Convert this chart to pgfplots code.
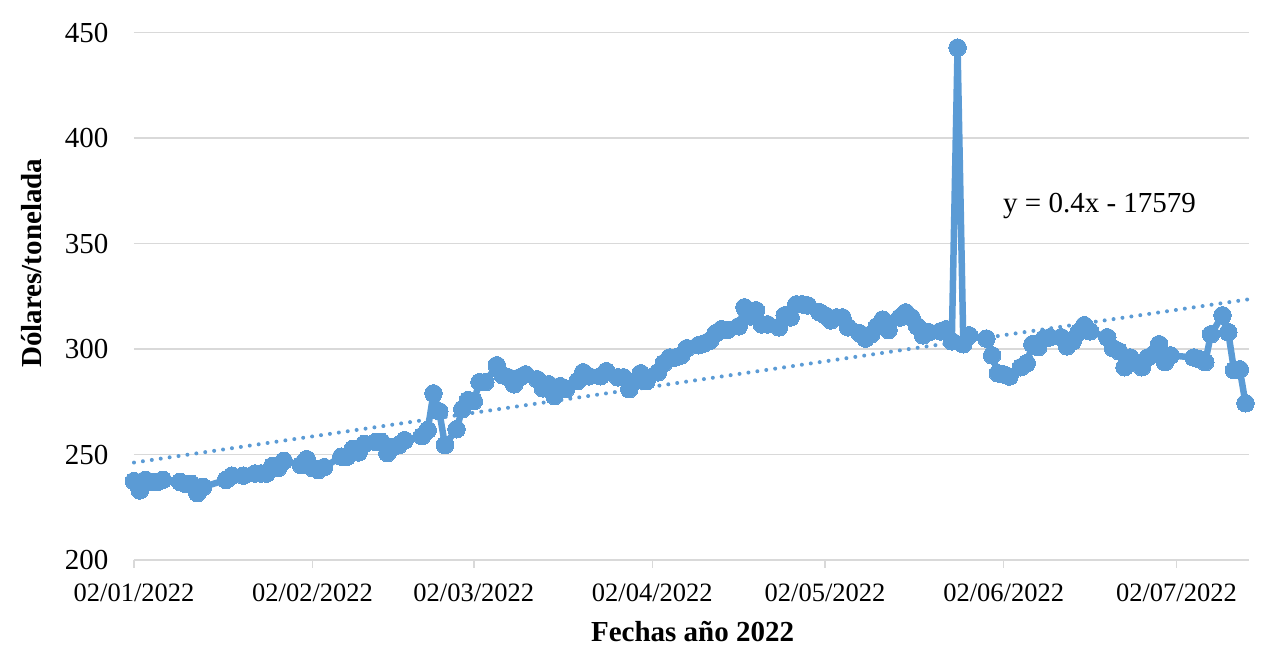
\documentclass[border=0pt]{standalone}
\usepackage{pgfplots}
\pgfplotsset{compat=1.18}
\usepackage{fontspec}
\setmainfont{Liberation Serif}
\definecolor{serie}{HTML}{5B9BD5}
\definecolor{rejilla}{HTML}{D9D9D9}

\begin{document}
\begin{tikzpicture}
\begin{axis}[
  scale only axis,
  width=1115pt, height=527.3pt,
  xmin=0, xmax=193.6,
  ymin=200, ymax=450,
  ytick={200,250,...,450},
  xtick={0,31,59,90,120,151,181},
  xticklabels={02/01/2022,02/02/2022,02/03/2022,02/04/2022,02/05/2022,02/06/2022,02/07/2022},
  axis x line*=bottom,
  axis y line*=left,
  y axis line style={draw=none},
  x axis line style={rejilla, line width=1.5pt},
  ymajorgrids,
  grid style={rejilla, line width=1.5pt},
  ytick style={draw=none},
  xtick style={rejilla, line width=1.5pt},
  tick align=outside,
  major tick length=8pt,
  /pgf/number format/assume math mode=true,
  yticklabel style={font=\fontsize{29}{34}\selectfont, xshift=-14pt},
  xticklabel style={font=\fontsize{26.5}{31}\selectfont, yshift=-12pt},
  xlabel={\textbf{Fechas año 2022}},
  ylabel={\textbf{Dólares/tonelada}},
  label style={font=\fontsize{29}{34}\selectfont},
  xlabel style={at={(axis description cs:0.501,-0.1365)}, anchor=center},
  ylabel style={at={(axis description cs:-0.0915,0.563)}, anchor=center},
  clip=false,
]
% linea de tendencia
\addplot[serie, line width=4pt, line cap=round, dash pattern=on 0pt off 9pt]
coordinates {(0,246.2) (193.3,323.5)};
% precios
\addplot[serie, line width=6.5pt, line join=round, mark=*, mark size=8.8pt,
  mark options={fill=serie, draw=serie, line width=0pt}]
coordinates {
(0,237.4)(1,233)(2,238)(3,237)(4,237)(5,238)(8,237)(9,236)(10,236)(11,231.7)(12,234.6)
(16,238)(17,240)(19,240)(21,241)(22,241)(23,241)(24,244.5)(25,243.6)(26,247)
(29,245)(30,247.8)(31,243.6)(32,242.6)(33,244)(36,249)(37,249)(38,252.6)(39,251)(40,255)
(42,255.9)(43,255.9)(44,250.7)(45,253.5)(46,254.5)(47,256.8)(50,258.7)(51,261.6)
(52,279)(53,270.5)(54,254.5)(56,262)(57,271.5)(58,275.8)(59,275.3)(60,284.3)(61,284.3)
(63,292.3)(64,287.6)(65,286.6)(66,283.3)(67,286.6)(68,288)(70,285.7)(71,281.4)(72,283.3)
(73,277.7)(74,282.4)(75,281)(77,284.8)(78,289)(79,287.1)(81,287.1)(82,289.5)(84,286.6)
(85,286.6)(86,281)(87,284.8)(88,288.5)(89,284.8)(91,289)(92,293.3)(93,296)(94,296)
(95,297)(96,300.4)(98,301.8)(99,302.7)(100,304)(101,307.5)(102,309.4)(103,309)
(105,310.8)(106,319.8)(107,315.5)(108,318.4)(109,311.7)(110,311.7)(112,310.3)(113,316)
(114,315)(115,321.2)(116,321.2)(117,320.7)(119,317.5)(120,316)(121,313.6)(122,315)
(123,315)(124,310.3)(126,307.5)(127,305)(128,307)(129,310.8)(130,314)(131,309)
(133,315)(134,317.4)(135,315)(136,310.8)(137,306.5)(138,308)(140,308.4)(141,309.4)
(142,303.7)(143,442.9)(144,302.3)(145,306.5)(148,305)(149,297)(150,288.5)(151,288)
(152,287)(154,291.4)(155,293.3)(156,302.3)(157,300.9)(158,305)(159,305.6)(161,305.6)
(162,301.3)(163,303.7)(164,308)(165,311.3)(166,308.4)(169,305.6)(170,300.4)(171,299)
(172,291.4)(173,296)(175,291.4)(176,296)(177,297.5)(178,302.3)(179,293.8)(180,297)
(184,296)(185,295.2)(186,293.8)(187,307)(189,316)(190,308)(191,290)(192,290.4)(193,274.3)
};
\node[font=\fontsize{29}{34}\selectfont, anchor=center]
  at (axis description cs:0.866,0.671) {y = 0.4x - 17579};
\end{axis}
\pgfresetboundingbox
\path (-134pt,-100pt) rectangle (1132pt,560pt);
\end{tikzpicture}
\end{document}
